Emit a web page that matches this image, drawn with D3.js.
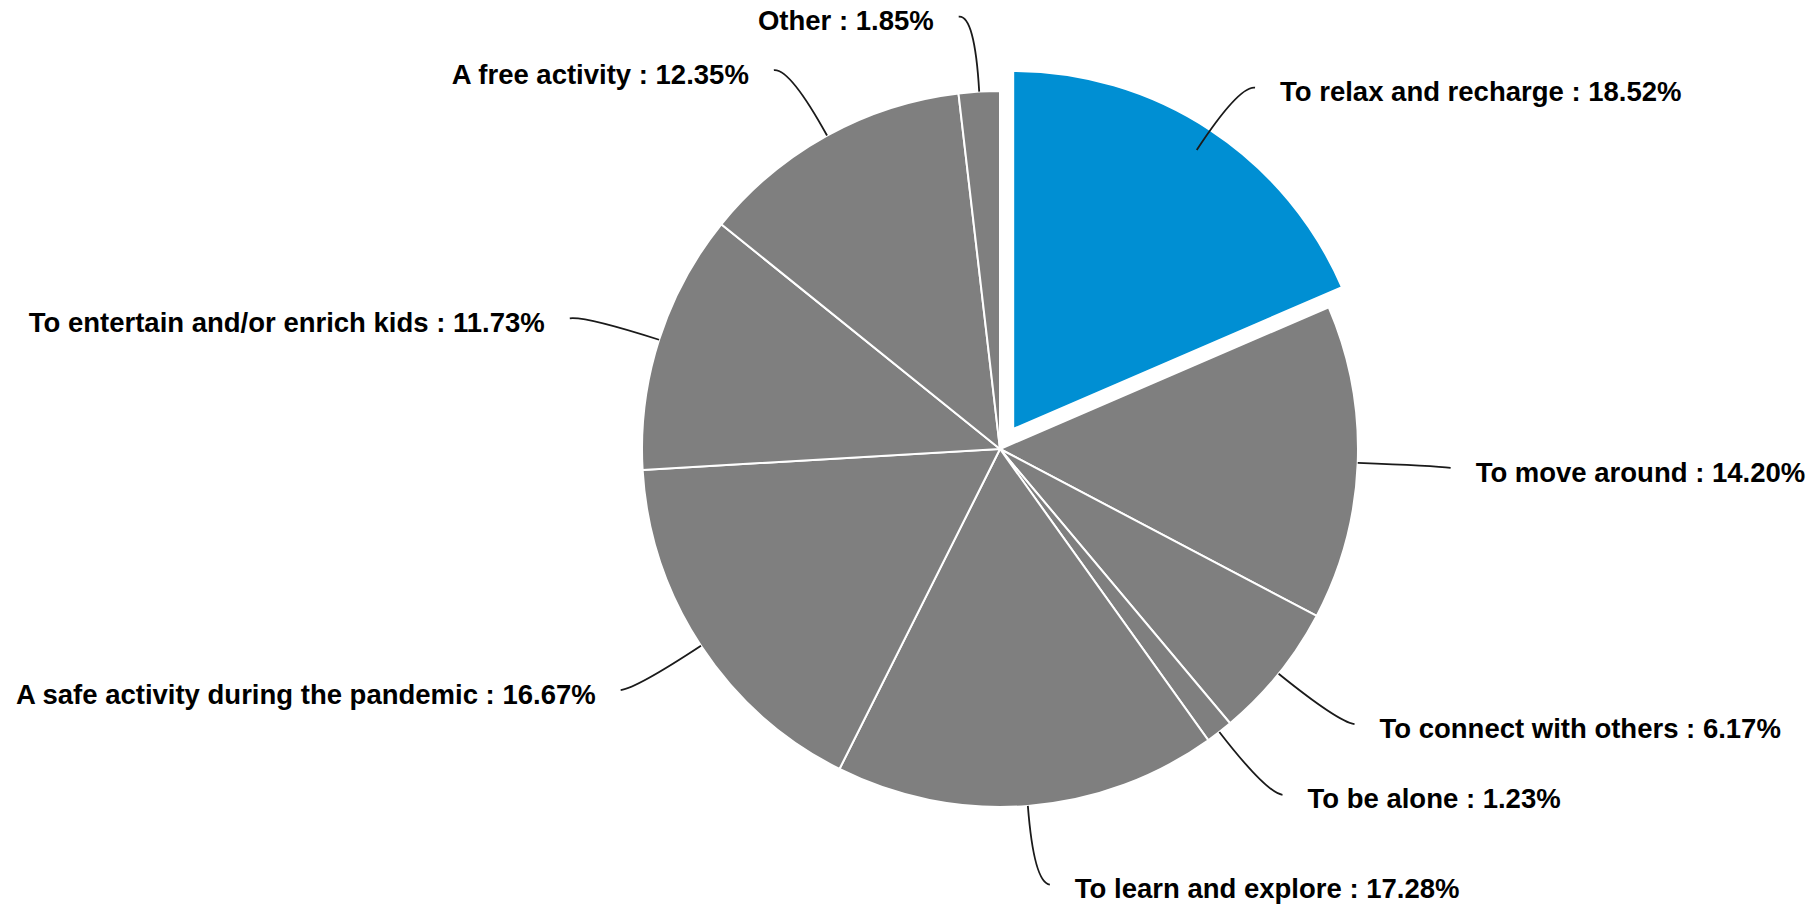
<!DOCTYPE html>
<html>
<head>
<meta charset="utf-8">
<script src="https://cdn.jsdelivr.net/npm/d3@7"></script>
<style>
  body { margin: 0; background: #fff; }
  text { font-family: "Liberation Sans", Arial, sans-serif; font-weight: bold; }
</style>
</head>
<body>
<div id="chart"></div>
<script>
// slices, clockwise from 12 o'clock
const categories = [
  'To relax and recharge',
  'To move around',
  'To connect with others',
  'To be alone',
  'To learn and explore',
  'A safe activity during the pandemic',
  'To entertain and/or enrich kids',
  'A free activity',
  'Other'
];
const values = [18.52, 14.20, 6.17, 1.23, 17.28, 16.67, 11.73, 12.35, 1.85];
const highlight = ['To relax and recharge'];

const width = 1811, height = 907;
const cx = 1000, cy = 449, radius = 358;
const explode = 24;

const svg = d3.select('#chart').append('svg')
  .attr('width', width)
  .attr('height', height);

const g = svg.append('g').attr('transform', `translate(${cx},${cy})`);

const data = categories.map((c, i) => ({ name: c, value: values[i] }));

const pie = d3.pie().value(d => d.value).sort(null);
const arc = d3.arc().innerRadius(0).outerRadius(radius);
const arcs = pie(data);

const midAngle = d => (d.startAngle + d.endAngle) / 2;

// slices
g.selectAll('path.slice')
  .data(arcs)
  .join('path')
  .attr('class', 'slice')
  .attr('d', arc)
  .attr('fill', d => highlight.includes(d.data.name) ? '#008fd3' : '#7f7f7f')
  .attr('stroke', '#fff')
  .attr('stroke-width', 2)
  .attr('transform', d => {
    if (!highlight.includes(d.data.name)) return null;
    const a = midAngle(d);
    return `translate(${Math.sin(a) * explode},${-Math.cos(a) * explode})`;
  });

// leader lines + labels
const elbowR = radius * 1.215;
const hook = 16, gap = 25;

arcs.forEach(d => {
  const a = midAngle(d);
  const sx = Math.sin(a), sy = -Math.cos(a);
  const side = sx >= 0 ? 1 : -1;
  const p0 = [sx * radius, sy * radius];
  const p1 = [sx * elbowR, sy * elbowR];
  const p2 = [p1[0] + side * hook, p1[1] + 2];

  g.append('path')
    .attr('d', `M${p0[0]},${p0[1]}Q${p1[0]},${p1[1]} ${p2[0]},${p2[1]}`)
    .attr('fill', 'none')
    .attr('stroke', '#1a1a1a')
    .attr('stroke-width', 1.8);

  g.append('text')
    .attr('x', p2[0] + side * gap)
    .attr('y', p2[1] + 4)
    .attr('dy', '0.35em')
    .attr('text-anchor', side > 0 ? 'start' : 'end')
    .style('font-size', '27.5px')
    .style('fill', '#000')
    .text(`${d.data.name} : ${d.data.value.toFixed(2)}%`);
});
</script>
</body>
</html>
